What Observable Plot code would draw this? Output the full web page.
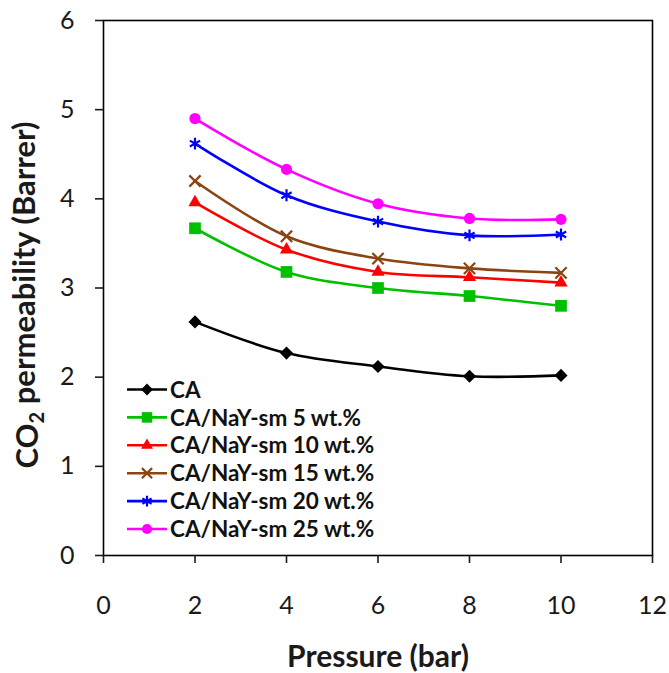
<!DOCTYPE html>
<html>
<head>
<meta charset="utf-8">
<script src="https://cdn.jsdelivr.net/npm/d3@7"></script>
<script src="https://cdn.jsdelivr.net/npm/@observablehq/plot@0.6"></script>
<style>
  html, body { margin: 0; padding: 0; background: #fff; }
  #wrap { position: relative; width: 669px; height: 673px; }
  #legend { position: absolute; left: 0; top: 0; pointer-events: none; }
</style>
</head>
<body>
<div id="wrap"></div>
<script>
// ---- data ----
const pressure = [2, 4, 6, 8, 10];
const seriesNames = [
  "CA",
  "CA/NaY-sm 5 wt.%",
  "CA/NaY-sm 10 wt.%",
  "CA/NaY-sm 15 wt.%",
  "CA/NaY-sm 20 wt.%",
  "CA/NaY-sm 25 wt.%"
];
const ca     = [2.62, 2.27, 2.12, 2.01, 2.02];
const nay5   = [3.67, 3.18, 3.00, 2.91, 2.80];
const nay10  = [3.96, 3.43, 3.18, 3.12, 3.06];
const nay15  = [4.20, 3.58, 3.33, 3.22, 3.17];
const nay20  = [4.62, 4.04, 3.745, 3.59, 3.60];
const nay25  = [4.90, 4.33, 3.945, 3.78, 3.77];
const xTicks = [0, 2, 4, 6, 8, 10, 12];
const yTicks = [0, 1, 2, 3, 4, 5, 6];

// ---- styles ----
const colors  = ["#000000", "#00c000", "#ff0000", "#8b4513", "#0000ff", "#ff00ff"];
const symbols = ["diamond2", "square", "triangle", "times", "asterisk", "circle"];
const radii   = [5.9, 6.6, 4.9, 5.2, 5.6, 5.6];
const filled  = [true, true, true, false, false, true];

const allValues = [ca, nay5, nay10, nay15, nay20, nay25];
const table = [];
allValues.forEach((vals, i) => {
  vals.forEach((v, j) => table.push({series: seriesNames[i], idx: i, x: pressure[j], y: v}));
});

const fontFam = "Lato, 'Open Sans', sans-serif";
const marks = [
  Plot.frame({stroke: "#000", strokeWidth: 1.6}),
  Plot.axisX({ticks: xTicks, tickFormat: d3.format("d"), tickSize: 8, tickPadding: 33, label: null, fontSize: 25, strokeWidth: 1.6}),
  Plot.axisY({ticks: yTicks, tickFormat: d3.format("d"), tickSize: 8, tickPadding: 21, label: null, fontSize: 25, strokeWidth: 1.6}),
];
seriesNames.forEach((name, i) => {
  const d = table.filter(r => r.idx === i);
  marks.push(Plot.line(d, {x: "x", y: "y", stroke: colors[i], strokeWidth: 2.6, curve: "catmull-rom"}));
  marks.push(Plot.dot(d, {
    x: "x", y: "y", symbol: () => symbols[i], r: radii[i],
    fill: filled[i] ? colors[i] : "none",
    stroke: colors[i], strokeWidth: filled[i] ? 0 : 2.2
  }));
});
marks.push(Plot.text(["Pressure (bar)"], {frameAnchor: "bottom", dy: 102, fontWeight: "bold", fontSize: 30, lineAnchor: "middle", textAnchor: "middle"}));
marks.push(Plot.text(["CO2 permeability (Barrer)"], {frameAnchor: "left", dx: -75, dy: 7, rotate: -90, fontWeight: "bold", fontSize: 31, lineAnchor: "middle", textAnchor: "middle"}));

const chart = Plot.plot({
  width: 669, height: 673,
  marginLeft: 103, marginRight: 17, marginTop: 20, marginBottom: 118,
  x: {domain: [0, 12]},
  y: {domain: [0, 6]},
  style: {fontFamily: fontFam, fontSize: "25px", color: "#1a1a1a", background: "#fff", overflow: "visible"},
  marks
});
document.getElementById("wrap").appendChild(chart);

// subscript in y title
d3.select(chart).selectAll("text").each(function() {
  const t = d3.select(this);
  if (t.text() === "CO2 permeability (Barrer)") {
    t.text("");
    t.append("tspan").text("CO");
    t.append("tspan").text("2").attr("font-size", 20).attr("dy", "0.3em");
    t.append("tspan").text(" permeability (Barrer)").attr("dy", "-0.3em");
  }
});

// ---- legend (inside plot, lower left) ----
const lg = d3.select("#wrap").append("svg").attr("id", "legend")
  .attr("width", 669).attr("height", 673);
const lx0 = 127, lx1 = 167, ly0 = 389.5, lstep = 27.9;
const symMap = {diamond2: d3.symbolDiamond2, square: d3.symbolSquare, triangle: d3.symbolTriangle,
                times: d3.symbolTimes, asterisk: d3.symbolAsterisk, circle: d3.symbolCircle};
seriesNames.forEach((name, i) => {
  const y = ly0 + i * lstep;
  const g = lg.append("g");
  g.append("line").attr("x1", lx0).attr("x2", lx1).attr("y1", y).attr("y2", y)
    .attr("stroke", colors[i]).attr("stroke-width", 2.6);
  const r = radii[i] * 0.9;
  g.append("path").attr("transform", `translate(${(lx0 + lx1) / 2},${y})`)
    .attr("d", d3.symbol(symMap[symbols[i]], Math.PI * r * r)())
    .attr("fill", filled[i] ? colors[i] : "none")
    .attr("stroke", filled[i] ? "none" : colors[i]).attr("stroke-width", 2.2);
  g.append("text").attr("x", 170).attr("y", y).attr("dy", "0.36em")
    .attr("font-family", fontFam).attr("font-weight", "bold")
    .attr("font-size", 22.5).attr("fill", "#111").text(name);
});
</script>
</body>
</html>
